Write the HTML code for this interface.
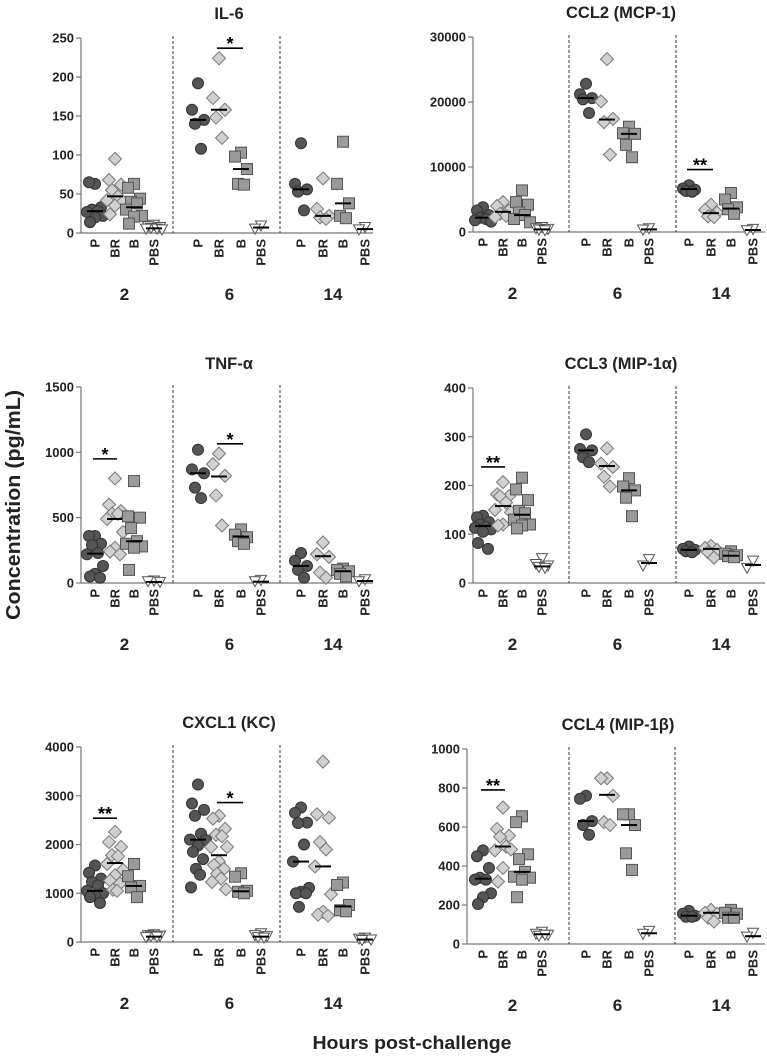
<!DOCTYPE html>
<html><head><meta charset="utf-8"><style>
html,body{margin:0;padding:0;background:#fff;}
svg{display:block;font-family:"Liberation Sans",Arial,sans-serif;font-weight:bold;}
</style></head><body>
<svg id="chart" width="767" height="1056" viewBox="0 0 767 1056" xmlns="http://www.w3.org/2000/svg">
<text x="0" y="0" transform="translate(20,505) rotate(-90)" text-anchor="middle" font-size="20" textLength="230" lengthAdjust="spacingAndGlyphs" fill="#222">Concentration (pg/mL)</text>
<text x="412" y="1049" text-anchor="middle" font-size="18" textLength="199" lengthAdjust="spacingAndGlyphs" fill="#222">Hours post-challenge</text>
</svg>
<script>
const NS='http://www.w3.org/2000/svg';
const svg=document.getElementById('chart');
const groups=['2','6','14'];
const cats=['P','BR','B','PBS'];
const titles=['IL-6','CCL2 (MCP-1)','TNF-\u03b1','CCL3 (MIP-1\u03b1)','CXCL1 (KC)','CCL4 (MIP-1\u03b2)'];
const yMax=[250,30000,1500,400,4000,1000];
const yTicks=[[0,50,100,150,200,250],[0,10000,20000,30000],[0,500,1000,1500],[0,100,200,300,400],[0,1000,2000,3000,4000],[0,200,400,600,800,1000]];
// values[panel][group][category]
const il6=[[[63,65,33,30,28,27,22,20,14],[95,68,62,55,47,42,40,35,24],[63,58,44,40,38,30,22,21,12],[10,8,7,6,5,5,4]],
[[192,158,145,140,108],[224,173,158,148,122],[103,98,82,63,62],[9,5]],
[[115,63,56,53,29],[70,31,22,20,18],[117,63,38,22,19],[7,4]]];
const il6Med=[[28,47,33,6],[145,158,82,7],[56,22,38,5]];
const ccl2=[[[3800,3300,2600,2200,2000,1800,1600],[4600,4000,3300,2800,2500,2300],[6400,4600,4200,3000,2600,2000,1500],[700,500,400,300,200]],
[[22800,21200,20600,20400,18300],[26600,20100,17400,16900,11900],[16200,15200,15100,13400,11500],[500,300]],
[[7200,6700,6500,6300,6200],[4200,3400,3000,2400,2300],[6000,5000,3800,3500,2800],[400,200]]];
const ccl2Med=[[2200,3100,2600,400],[20600,17300,15100,400],[6600,2900,3600,300]];
const tnf=[[[360,360,300,290,230,220,130,70,50,40],[800,600,550,530,530,490,390,270,240,220],[780,510,500,420,320,300,280,270,100],[15,10,5]],
[[1020,870,840,730,650],[990,910,820,670,440],[410,370,350,320,300],[20,10]],
[[230,170,130,100,40],[310,220,200,80,40],[110,100,90,70,50],[25,10]]];
const tnfMed=[[225,490,320,8],[840,815,355,10],[130,205,90,15]];
const ccl3=[[[138,135,125,120,115,113,110,105,82,70],[207,182,178,178,165,150,145,120,118],[216,192,170,148,143,130,120,118,112],[50,38,35,32,30]],
[[305,275,272,258,248],[276,245,238,218,198],[215,198,190,175,137],[48,35]],
[[75,70,68,65,63],[76,72,68,63,52],[65,60,57,55,53],[45,30]]];
const ccl3Med=[[117,158,140,34],[272,240,190,41],[68,70,56,37]];
const cxcl1=[[[1570,1420,1300,1230,1160,1050,1000,950,920,800],[2260,2050,1950,1780,1760,1600,1480,1370,1260,1200,1070,1050],[1600,1350,1150,1120,920],[150,130,120,110,100,90]],
[[3230,2840,2710,2590,2220,2100,2090,1980,1850,1700,1500,1380,1120],[2590,2530,2320,2200,2170,1950,1950,1650,1580,1500,1400,1300,1230,1080],[1410,1340,1050,1030,1000],[170,130,110,90,80]],
[[2760,2650,2450,2440,2000,1650,1110,1030,1000,1000,720],[3700,2620,2550,2050,1900,1550,980,620,560,540],[1220,1170,760,650,630],[80,60,40,30]]];
const cxcl1Med=[[1050,1620,1150,110],[2100,1780,1040,110],[1650,1550,730,50]];
const ccl4=[[[480,450,390,340,330,330,260,240,205],[700,590,555,550,500,480,485,390,320],[655,625,460,435,370,345,340,330,240],[60,50,45,40,45]],
[[760,745,630,610,560],[850,850,760,625,610],[665,665,610,465,380],[65,50]],
[[170,155,145,140,140],[175,160,155,135,115],[175,160,155,135,135],[55,35]]];
const ccl4Med=[[335,500,370,50],[630,765,610,55],[145,160,150,40]];
const values=[il6,ccl2,tnf,ccl3,cxcl1,ccl4];
const medians=[il6Med,ccl2Med,tnfMed,ccl3Med,cxcl1Med,ccl4Med];
// significance: [panel, group, catFrom, catTo, value, label]
const sigPanel=[0,1,2,2,3,4,4,5];
const sigGroup=[1,2,0,1,0,0,1,0];
const sigFrom=[1,0,0,1,0,0,1,0];
const sigTo=[2,1,1,2,1,1,2,1];
const sigValue=[237,9600,950,1065,238,2540,2860,790];
const sigLabel=['*','**','*','*','**','**','*','**'];

const layout=[
 {ax:81,y0:233,top:38,x0:95,right:373,d:[173,280]},
 {ax:473,y0:232,top:37,x0:483,right:765,d:[569,676]},
 {ax:81,y0:583,top:387,x0:95,right:373,d:[173,280]},
 {ax:473,y0:583,top:388,x0:483,right:765,d:[569,676]},
 {ax:81,y0:942,top:747,x0:95,right:373,d:[173,280]},
 {ax:467,y0:944,top:749,x0:483,right:765,d:[569,675]}];
const catOff=[0,20,39,59,103,124,146,166,206,228,248,270];
const jit=[0,-6,6,-3,3,-8,8,0,-5,5,-2,2,-7,7];
function el(t,a,p){const e=document.createElementNS(NS,t);for(const k in a)e.setAttribute(k,a[k]);(p||svg).appendChild(e);return e;}
function yScale(p,v){const L=layout[p];return L.y0-(v/yMax[p])*(L.y0-L.top);}
function xScale(p,g,c){return layout[p].x0+catOff[g*4+c];}
const fills=['#555','#d0d0d0','#9a9a9a','#fff'];
const strokes=['#333','#777','#555','#555'];
function marker(p,g,c,x,y){
 let m;
 if(c===0)m=el('circle',{cx:x,cy:y,r:5.5});
 else if(c===1)m=el('polygon',{points:`${x},${y-6.5} ${x+6.5},${y} ${x},${y+6.5} ${x-6.5},${y}`});
 else if(c===2)m=el('rect',{x:x-5.5,y:y-5.5,width:11,height:11});
 else m=el('polygon',{points:`${x-5.5},${y-5} ${x+5.5},${y-5} ${x},${y+5}`});
 m.setAttribute('fill',fills[c]);m.setAttribute('stroke',strokes[c]);m.setAttribute('stroke-width','1');
 
 
}
for(let p=0;p<6;p++){
 const L=layout[p];
 const gp=el('g',{});
 
 
 const t=el('text',{x:(L.ax+L.right)/2+2,y:L.y0-214,'text-anchor':'middle','font-size':16.5,fill:'#222'},gp);
 t.textContent=titles[p];
 
 
 const a=el('line',{x1:L.ax,y1:L.top,x2:L.ax,y2:L.y0,stroke:'#777','stroke-width':1.2},gp);
 
 
 const xa=el('line',{x1:L.ax,y1:L.y0,x2:L.right,y2:L.y0,stroke:'#777','stroke-width':1.2},gp);
 
 
 yTicks[p].forEach(v=>{const y=yScale(p,v);
  el('line',{x1:L.ax-5,y1:y,x2:L.ax,y2:y,stroke:'#777','stroke-width':1.2},gp);
  const tl=el('text',{x:L.ax-7,y:y+4.5,'text-anchor':'end','font-size':13,fill:'#222'},gp);tl.textContent=v;
  
  });
 L.d.forEach(x=>{const dl=el('line',{x1:x,y1:L.top-2,x2:x,y2:L.y0,stroke:'#333','stroke-width':1,'stroke-dasharray':'3,2'},gp);
  
  });
 for(let g=0;g<3;g++){
  for(let c=0;c<4;c++){
   const cx=xScale(p,g,c);
   const cl=el('text',{x:0,y:0,transform:`translate(${cx+4.5},${L.y0+6}) rotate(-90)`,'text-anchor':'end','font-size':13,fill:'#222'},gp);
   cl.textContent=cats[c];
   
   
   values[p][g][c].forEach((v,i)=>marker(p,g,c,cx+jit[i%jit.length],yScale(p,v)));
   const my=yScale(p,medians[p][g][c]);
   const ml=el('line',{x1:cx-8,y1:my,x2:cx+8,y2:my,stroke:'#000','stroke-width':2});
   
   
  }
  const gl=el('text',{x:(xScale(p,g,0)+xScale(p,g,3))/2,y:L.y0+67,'text-anchor':'middle','font-size':17,fill:'#222'},gp);
  gl.textContent=groups[g];
  
  
 }
}
for(let s=0;s<sigPanel.length;s++){
 const p=sigPanel[s],g=sigGroup[s];
 const x1=xScale(p,g,sigFrom[s])-2,x2=xScale(p,g,sigTo[s])+2,y=yScale(p,sigValue[s]);
 const b=el('line',{x1:x1,y1:y,x2:x2,y2:y,stroke:'#000','stroke-width':1.6});
 
 
 const st=el('text',{x:(x1+x2)/2,y:y+2,'text-anchor':'middle','font-size':18,fill:'#000'});
 st.textContent=sigLabel[s];
 
 
}
</script>
</body></html>
